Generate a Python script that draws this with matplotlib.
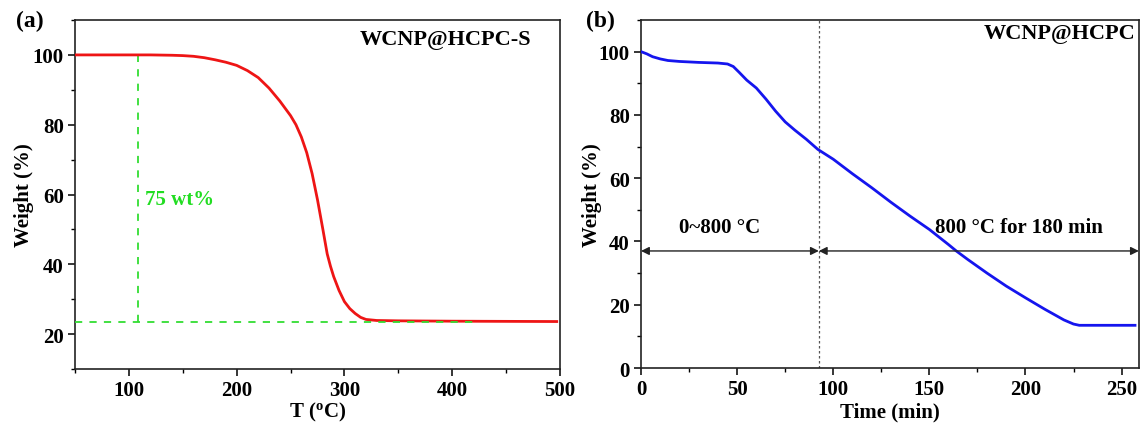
import matplotlib
matplotlib.use('Agg')
import matplotlib.pyplot as plt
from matplotlib.ticker import MultipleLocator

plt.rcParams['font.family'] = 'Liberation Serif'
plt.rcParams['font.weight'] = 'bold'
plt.rcParams['mathtext.fontset'] = 'custom'
plt.rcParams['mathtext.rm'] = 'Liberation Serif:bold'
plt.rcParams['mathtext.it'] = 'Liberation Serif:bold'
plt.rcParams['mathtext.bf'] = 'Liberation Serif:bold'

# (a) TGA of WCNP@HCPC-S
temp_a = [50, 120, 140, 150, 160, 170, 180, 190, 200, 210, 220, 230, 240, 250, 255,
          260, 265, 270, 275, 280, 284, 287, 290, 295, 300, 305, 310, 315, 320,
          330, 350, 400, 497]
weight_a = [100, 100, 99.9, 99.8, 99.6, 99.2, 98.6, 97.9, 97.0, 95.5, 93.5, 90.5,
            86.8, 82.6, 80.0, 76.5, 72.0, 66.0, 58.5, 50.0, 43.0, 39.5, 36.5, 32.5,
            29.3, 27.3, 25.9, 24.8, 24.2, 23.9, 23.8, 23.7, 23.6]
guide_x = 108
guide_y = 23.6

# (b) WCNP@HCPC vs time
time_b = [0, 3, 6, 10, 14, 20, 30, 40, 45, 48, 51, 55, 60, 65, 70, 75, 80, 86, 92,
          100, 110, 120, 130, 140, 150, 160, 164, 170, 180, 190, 200, 210, 220,
          225, 228, 257]
weight_b = [100, 99.3, 98.4, 97.7, 97.2, 96.9, 96.6, 96.4, 96.1, 95.3, 93.5, 91.0,
            88.5, 85.0, 81.2, 77.8, 75.2, 72.3, 69.1, 66.0, 61.4, 57.0, 52.4, 48.0,
            43.8, 39.0, 37.0, 34.3, 30.0, 25.9, 22.2, 18.6, 15.2, 13.9, 13.5, 13.5]
split_t = 92.5
arrow_y = 37

fig = plt.figure(figsize=(11.4, 4.27), dpi=100)
ax1 = fig.add_axes([0.0658, 0.1335, 0.4254, 0.8173])
ax2 = fig.add_axes([0.5623, 0.1358, 0.4367, 0.815])

fs = 15

#%% panel a
ax1.plot(temp_a, weight_a, color='#ee1515', lw=2, zorder=3)
ax1.plot([guide_x, guide_x], [guide_y, 100], color='#33dd33', lw=1.3, ls=(0, (4, 4)), zorder=2)
ax1.plot([50, 420], [guide_y, guide_y], color='#33dd33', lw=1.3, ls=(0, (4, 4)), zorder=4)
ax1.text(guide_x + 7, 58.6, '75 wt%', color='#22dd22', fontsize=fs, fontweight='bold', va='center')
ax1.text(394, 104.6, 'WCNP@HCPC-S', fontsize=16, fontweight='bold', ha='center', va='center')
ax1.set_xlim(50, 500)
ax1.set_ylim(10, 110)
ax1.xaxis.set_major_locator(MultipleLocator(100))
ax1.xaxis.set_minor_locator(MultipleLocator(50))
ax1.set_yticks([20, 40, 60, 80, 100])
ax1.yaxis.set_minor_locator(MultipleLocator(10))
ax1.set_xlabel(r'T ($^{\rm o}$C)', fontsize=fs, fontweight='bold', labelpad=0)
ax1.set_ylabel('Weight (%)', fontsize=fs, fontweight='bold', labelpad=-1)
fig.text(0.014, 0.95, '(a)', fontsize=17, fontweight='bold', va='center')

#%% panel b
ax2.plot(time_b, weight_b, color='#1515ee', lw=2, zorder=3)
ax2.axvline(split_t, color='#555555', lw=0.9, ls=(0, (2, 2)))
ax2.annotate('', xy=(0, arrow_y), xytext=(split_t, arrow_y),
             arrowprops=dict(arrowstyle='<|-|>', color='#222222', lw=1,
                             mutation_scale=12, shrinkA=0, shrinkB=0))
ax2.annotate('', xy=(split_t, arrow_y), xytext=(259, arrow_y),
             arrowprops=dict(arrowstyle='<|-|>', color='#222222', lw=1,
                             mutation_scale=12, shrinkA=0, shrinkB=0))
ax2.text(41, 44.5, '0~800 °C', fontsize=fs, fontweight='bold', ha='center', va='center')
ax2.text(196.5, 44.5, '800 °C for 180 min', fontsize=fs, fontweight='bold', ha='center', va='center')
ax2.text(218, 106, 'WCNP@HCPC', fontsize=16, fontweight='bold', ha='center', va='center')
ax2.set_xlim(0, 259)
ax2.set_ylim(0, 110)
ax2.xaxis.set_major_locator(MultipleLocator(50))
ax2.xaxis.set_minor_locator(MultipleLocator(25))
ax2.set_yticks([0, 20, 40, 60, 80, 100])
ax2.yaxis.set_minor_locator(MultipleLocator(10))
ax2.set_xlabel('Time (min)', fontsize=fs, fontweight='bold', labelpad=2)
ax2.set_ylabel('Weight (%)', fontsize=fs, fontweight='bold', labelpad=-2)
fig.text(0.514, 0.95, '(b)', fontsize=17, fontweight='bold', va='center')

for ax in (ax1, ax2):
    for s in ax.spines.values():
        s.set_linewidth(1.2)
        s.set_color('#222222')
    ax.tick_params(which='major', direction='out', length=5, width=1.1, labelsize=fs, pad=3)
    ax.tick_params(which='minor', direction='out', length=3, width=1)
    for lab in ax.get_xticklabels() + ax.get_yticklabels():
        lab.set_fontweight('bold')

fig.savefig('out.png', dpi=100)
